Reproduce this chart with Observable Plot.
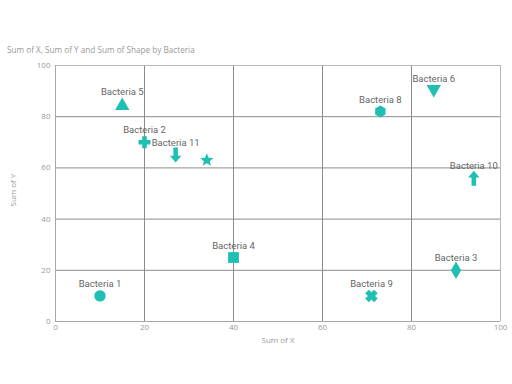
<!DOCTYPE html>
<html>
<head>
<meta charset="utf-8">
<script src="https://cdn.jsdelivr.net/npm/d3@7"></script>
<script src="https://cdn.jsdelivr.net/npm/@observablehq/plot@0.6"></script>
<style>
  body { margin: 0; background: #fff; }
  #wrap { position: relative; width: 512px; height: 384px; background: #fff; }
  #title { position: absolute; left: 7px; top: 44px; font: 8.2px "Open Sans", sans-serif; color: #999; white-space: nowrap; z-index: 2; }
  #chart { position: absolute; left: 0; top: 0; }
</style>
</head>
<body>
<div id="wrap">
  <div id="title">Sum of X, Sum of Y and Sum of Shape by Bacteria</div>
  <div id="chart"></div>
</div>
<script>
const bacteria = ["Bacteria 1","Bacteria 2","Bacteria 3","Bacteria 4","Bacteria 5","Bacteria 6","Bacteria 7","Bacteria 8","Bacteria 9","Bacteria 10","Bacteria 11"];
const xValues = [10, 20, 90, 40, 15, 85, 34, 73, 71, 94, 27];
const yValues = [10, 70, 20, 25, 85, 90, 63, 82, 10, 56, 65];
const shapes = ["circle","plus","diamond","square","triangleUp","triangleDown","star","hexagon","x","arrowUp","arrowDown"];
const labelShown = [true, true, true, true, true, true, false, true, true, true, true];
const xTicks = [0, 20, 40, 60, 80, 100];
const yTicks = [0, 20, 40, 60, 80, 100];

const rad = size => Math.sqrt(size / Math.PI);
function poly(ctx, pts) { ctx.moveTo(pts[0][0], pts[0][1]); for (let i = 1; i < pts.length; i++) ctx.lineTo(pts[i][0], pts[i][1]); ctx.closePath(); }
const symbolDefs = {
  circle: { draw(c, s) { const r = rad(s) * 0.95; c.moveTo(r, 0); c.arc(0, 0, r, 0, 2 * Math.PI); } },
  square: { draw(c, s) { const r = rad(s) * 0.9; c.rect(-r, -r, 2 * r, 2 * r); } },
  triangleUp: { draw(c, s) { const r = rad(s); poly(c, [[0, -1.05 * r], [1.2 * r, 1.0 * r], [-1.2 * r, 1.0 * r]]); } },
  triangleDown: { draw(c, s) { const r = rad(s); poly(c, [[0, 1.05 * r], [1.2 * r, -1.0 * r], [-1.2 * r, -1.0 * r]]); } },
  plus: { draw(c, s) { const r = rad(s), w = 0.38 * r; poly(c, [[-w,-r],[w,-r],[w,-w],[r,-w],[r,w],[w,w],[w,r],[-w,r],[-w,w],[-r,w],[-r,-w],[-w,-w]]); } },
  x: { draw(c, s) { const r = rad(s) * 1.05, w = 0.4 * r, k = Math.SQRT1_2;
    const p = [[-w,-r],[w,-r],[w,-w],[r,-w],[r,w],[w,w],[w,r],[-w,r],[-w,w],[-r,w],[-r,-w],[-w,-w]].map(([a,b]) => [(a - b) * k, (a + b) * k]);
    poly(c, p); } },
  diamond: { draw(c, s) { const r = rad(s); poly(c, [[0, -1.45 * r], [0.85 * r, 0], [0, 1.45 * r], [-0.85 * r, 0]]); } },
  hexagon: { draw(c, s) { const r = rad(s) * 1.0; const p = d3.range(6).map(i => [r * Math.cos(Math.PI / 6 + i * Math.PI / 3), r * Math.sin(Math.PI / 6 + i * Math.PI / 3)]); poly(c, p); } },
  star: { draw(c, s) { const r = rad(s) * 1.15, ri = r * 0.45; const p = d3.range(10).map(i => { const a = -Math.PI / 2 + i * Math.PI / 5, rr = i % 2 ? ri : r; return [rr * Math.cos(a), rr * Math.sin(a)]; }); poly(c, p); } },
  arrowUp: { draw(c, s) { const r = rad(s), h = 1.25 * r, w = 0.38 * r, hw = 0.95 * r, hy = -0.1 * r; poly(c, [[0,-h],[hw,hy],[w,hy],[w,h],[-w,h],[-w,hy],[-hw,hy]]); } },
  arrowDown: { draw(c, s) { const r = rad(s), h = 1.25 * r, w = 0.38 * r, hw = 0.95 * r, hy = 0.1 * r; poly(c, [[0,h],[hw,hy],[w,hy],[w,-h],[-w,-h],[-w,hy],[-hw,hy]]); } }
};

const data = bacteria.map((b, i) => ({ name: b, x: xValues[i], y: yValues[i], shape: shapes[i], label: labelShown[i] }));
const shapeNames = Object.keys(symbolDefs);

const chart = Plot.plot({
  width: 512,
  height: 384,
  marginLeft: 55,
  marginRight: 12,
  marginTop: 65,
  marginBottom: 63,
  style: { fontFamily: "Open Sans, sans-serif", background: "transparent", overflow: "visible" },
  x: { domain: [0, 100], ticks: xTicks },
  y: { domain: [0, 100], ticks: yTicks },
  symbol: { domain: shapeNames, range: shapeNames.map(n => symbolDefs[n]) },
  marks: [
    Plot.gridX(xTicks, { stroke: "#8a8a8a", strokeOpacity: 1, strokeWidth: 1 }),
    Plot.gridY(yTicks, { stroke: "#8a8a8a", strokeOpacity: 1, strokeWidth: 1 }),
    Plot.ruleX([100], { stroke: "#b8b8b8" }),
    Plot.ruleY([100], { stroke: "#b8b8b8" }),
    Plot.ruleX([0], { stroke: "#a8a8a8" }),
    Plot.ruleY([0], { stroke: "#a8a8a8" }),
    Plot.axisX(xTicks, { tickSize: 0, tickPadding: 3, fontSize: 8, fill: "#999", label: null }),
    Plot.axisY(yTicks, { tickSize: 0, tickPadding: 5, fontSize: 8, fill: "#999", label: null }),
    Plot.text(["Sum of X"], { frameAnchor: "bottom", text: d => d, dy: 21, fontSize: 8, fill: "#999" }),
    Plot.text(["Sum of Y"], { frameAnchor: "left", text: d => d, rotate: -90, dx: -42, dy: 13, fontSize: 8, fill: "#999" }),
    Plot.dot(data, { x: "x", y: "y", symbol: "shape", r: 6, fill: "#1fbfb4", stroke: "none" }),
    Plot.text(data.filter(d => d.label), { x: "x", y: "y", text: "name", dy: -12, fontSize: 9.5, fill: "#666", fontFamily: "Roboto, sans-serif" })
  ]
});
document.getElementById("chart").appendChild(chart);
</script>
</body>
</html>
